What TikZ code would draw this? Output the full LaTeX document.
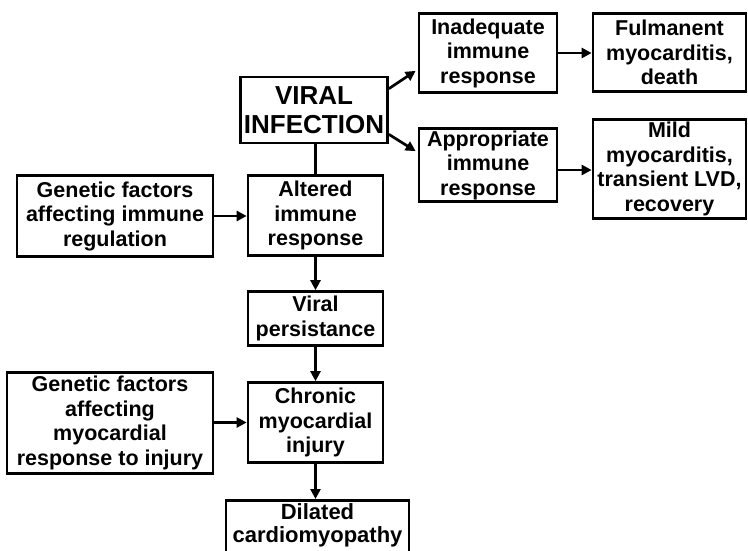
\documentclass[tikz,border=0pt]{standalone}
\usepackage{fontspec}
\setmainfont{Liberation Sans}
\usetikzlibrary{arrows.meta,calc}
\begin{document}
\begin{tikzpicture}[x=1pt,y=-1pt,
  box/.style={draw=black,line width=2.7pt,rectangle,align=center,inner sep=2pt,
    font=\bfseries\fontsize{21.5}{24.5}\selectfont},
  arr/.style={line width=2.7pt,-{Triangle[length=10pt,width=10pt]}},
  link/.style={line width=2.7pt}]
\useasboundingbox (0,0) rectangle (748,550);
\clip (0,0) rectangle (748,550);

% top branch
\node[box,minimum width=147pt,minimum height=66pt,
  font=\bfseries\fontsize{26}{29}\selectfont] (viral) at (314,110) {VIRAL\\INFECTION};
\node[box,minimum width=138pt,minimum height=79pt] (inad) at (488,53) {Inadequate\\immune\\response};
\node[box,minimum width=153pt,minimum height=78pt] (fulm) at (669.5,52.5) {Fulmanent\\myocarditis,\\death};
\node[box,minimum width=138pt,minimum height=71pt] (appr) at (488,165) {Appropriate\\immune\\response};
\node[box,minimum width=153pt,minimum height=99pt] (mild) at (669.5,169) {Mild\\myocarditis,\\transient LVD,\\recovery};

% main chain
\node[box,minimum width=196pt,minimum height=81pt] (gen1) at (115,216) {Genetic factors\\affecting immune\\regulation};
\node[box,minimum width=135pt,minimum height=80pt] (alt) at (315.5,215.5) {Altered\\immune\\response};
\node[box,minimum width=135pt,minimum height=54pt] (pers) at (315.5,318.5) {Viral\\persistance};
\node[box,minimum width=206pt,minimum height=101pt] (gen2) at (110,423) {Genetic factors\\affecting\\myocardial\\response to injury};
\node[box,minimum width=135pt,minimum height=80pt] (chron) at (315.5,422.5) {Chronic\\myocardial\\injury};
\node[box,minimum width=183pt,minimum height=70pt,anchor=north,
  font=\bfseries\fontsize{22}{23.5}\selectfont,inner sep=3pt] (dil) at (317.5,499) {\rule{0pt}{4pt}Dilated\\cardiomyopathy\\[18pt]};

% connectors
\draw[arr] ($(viral.north east)+(0,13)$) -- ($(inad.south west)+(-2,-23)$);
\draw[arr] ($(viral.south east)+(0,-10)$) -- ($(appr.north west)+(-2,24)$);
\draw[arr] (inad.east) -- (fulm.west |- inad.east);
\draw[arr] (appr.east |- 0,170) -- (mild.west |- 0,170);
\draw[link] (alt.north) -- (alt.north |- viral.south);
\draw[arr] (gen1.east) -- (alt.west |- gen1.east);
\draw[arr] (alt.south) -- (pers.north);
\draw[arr] (pers.south) -- (chron.north);
\draw[arr] (gen2.east |- chron.west) -- (chron.west);
\draw[arr] (chron.south) -- (chron.south |- dil.north);
\end{tikzpicture}
\end{document}
